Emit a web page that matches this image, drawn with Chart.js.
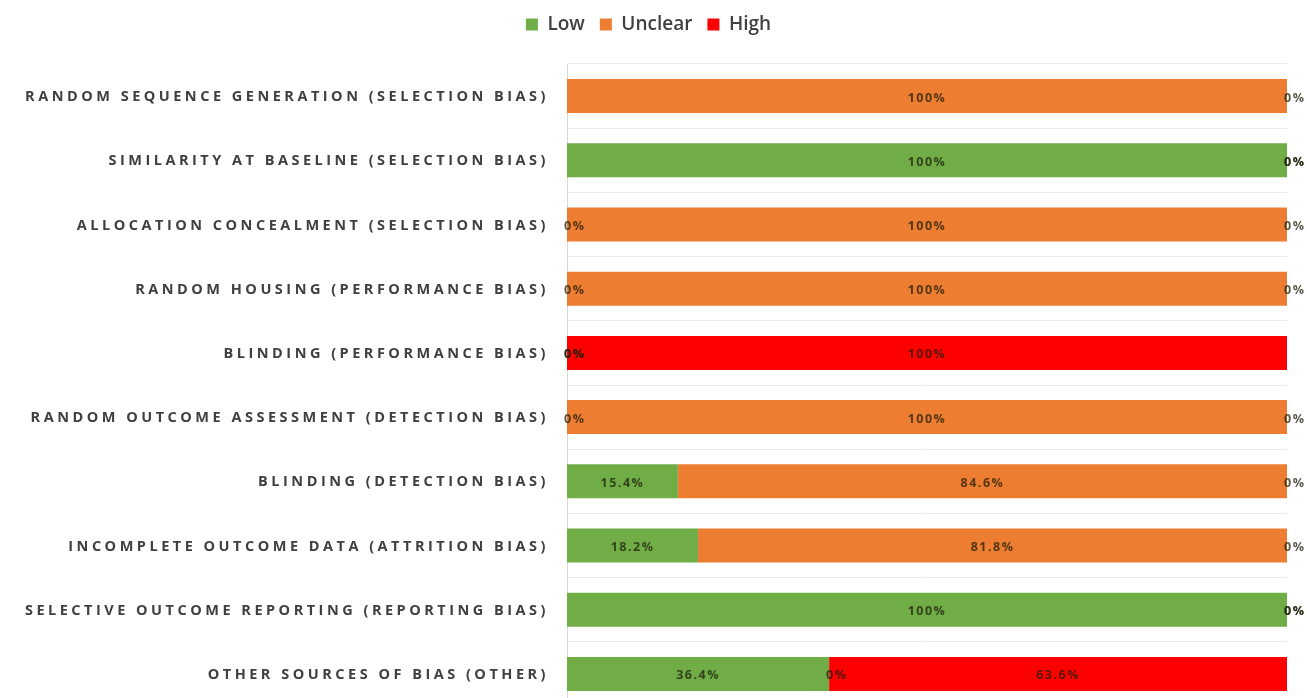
<!DOCTYPE html>
<html>
<head>
<meta charset="utf-8">
<script src="https://cdn.jsdelivr.net/npm/chart.js@4.4.0/dist/chart.umd.min.js"></script>
<style>
html,body{margin:0;padding:0;background:#fff;overflow:hidden;}
#wrap{width:1307px;height:706px;position:relative;}
</style>
</head>
<body>
<div id="wrap"><canvas id="c"></canvas></div>
<script>
const categories = [
  "RANDOM SEQUENCE GENERATION (SELECTION BIAS)",
  "SIMILARITY AT BASELINE (SELECTION BIAS)",
  "ALLOCATION CONCEALMENT (SELECTION BIAS)",
  "RANDOM HOUSING (PERFORMANCE BIAS)",
  "BLINDING (PERFORMANCE BIAS)",
  "RANDOM OUTCOME ASSESSMENT (DETECTION BIAS)",
  "BLINDING (DETECTION BIAS)",
  "INCOMPLETE OUTCOME DATA (ATTRITION BIAS)",
  "SELECTIVE OUTCOME REPORTING (REPORTING BIAS)",
  "OTHER SOURCES OF BIAS (OTHER)"
];
const lowValues     = [0, 100, 0, 0, 0, 0, 15.4, 18.2, 100, 36.4];
const unclearValues = [100, 0, 100, 100, 0, 100, 84.6, 81.8, 0, 0];
const highValues    = [0, 0, 0, 0, 100, 0, 0, 0, 0, 63.6];
const seriesNames   = ["Low", "Unclear", "High"];
const seriesColors  = ["#70AD47", "#ED7D31", "#FF0000"];
// labels not shown in the original (dataset index, category index)
const hiddenLabels  = [[0, 0]];

const labelPlugin = {
  id: 'segLabels',
  afterDatasetsDraw(chart) {
    const ctx = chart.ctx;
    ctx.save();
    ctx.font = '700 12.5px "Open Sans", sans-serif';
    ctx.fillStyle = 'rgba(30,30,10,0.75)';
    ctx.textBaseline = 'middle';
    try { ctx.letterSpacing = '1.5px'; } catch (e) {}
    chart.data.datasets.forEach((ds, di) => {
      const meta = chart.getDatasetMeta(di);
      meta.data.forEach((el, i) => {
        if (hiddenLabels.some(h => h[0] === di && h[1] === i)) return;
        const v = ds.data[i];
        const txt = (Math.round(v * 10) / 10) + '%';
        const x0 = Math.min(el.x, el.base), x1 = Math.max(el.x, el.base);
        if (v === 0) {
          ctx.textAlign = 'left';
          ctx.fillText(txt, x0 - 3, el.y + 2);
        } else {
          ctx.textAlign = 'center';
          ctx.fillText(txt, (x0 + x1) / 2, el.y + 2);
        }
      });
    });
    ctx.restore();
  }
};

const yLabelPlugin = {
  id: 'yLabels',
  afterDraw(chart) {
    const ctx = chart.ctx;
    const y = chart.scales.y;
    ctx.save();
    ctx.font = '700 14.5px "Open Sans", sans-serif';
    ctx.fillStyle = '#404040';
    ctx.textAlign = 'right';
    ctx.textBaseline = 'middle';
    try { ctx.letterSpacing = '3.5px'; } catch (e) {}
    categories.forEach((c, i) => {
      ctx.fillText(c, y.right - 18, y.getPixelForValue(i) + 1);
    });
    ctx.restore();
  }
};

new Chart(document.getElementById('c'), {
  type: 'bar',
  data: {
    labels: categories,
    datasets: [
      { label: seriesNames[0], data: lowValues, backgroundColor: seriesColors[0] },
      { label: seriesNames[1], data: unclearValues, backgroundColor: seriesColors[1] },
      { label: seriesNames[2], data: highValues, backgroundColor: seriesColors[2] }
    ]
  },
  options: {
    indexAxis: 'y',
    responsive: true,
    maintainAspectRatio: false,
    animation: false,
    devicePixelRatio: 1,
    layout: { padding: { left: 10, right: 20, top: 0, bottom: 0 } },
    datasets: { bar: { barPercentage: 0.53, categoryPercentage: 1.0 } },
    scales: {
      x: {
        stacked: true, min: 0, max: 100, position: 'top',
        ticks: { display: false },
        grid: { display: false },
        border: { display: false },
        afterFit(s) { s.height = 20; }
      },
      y: {
        stacked: true,
        ticks: { display: false },
        grid: { color: '#ebebeb', drawTicks: false, offset: true },
        border: { color: '#d9d9d9' },
        afterFit(s) { s.width = 557; }
      }
    },
    plugins: {
      legend: {
        position: 'top',
        labels: {
          font: { size: 19, weight: '600', family: '"Open Sans", sans-serif' },
          color: '#404040',
          boxWidth: 12,
          boxHeight: 12,
          padding: 15
        }
      },
      tooltip: { enabled: false }
    }
  },
  plugins: [labelPlugin, yLabelPlugin]
});
</script>
</body>
</html>
